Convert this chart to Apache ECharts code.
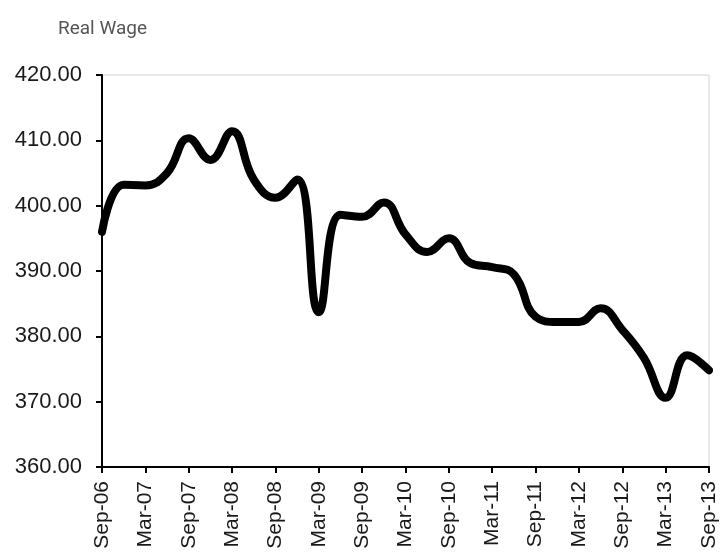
<!DOCTYPE html>
<html>
<head>
<meta charset="utf-8">
<script src="https://cdn.jsdelivr.net/npm/echarts@6/dist/echarts.min.js"></script>
<style>html,body{margin:0;padding:0;background:#fff;}#c{width:721px;height:555px;}</style>
</head>
<body>
<div id="c"></div>
<script>
var categories = ['Sep-06','Dec-06','Mar-07','Jun-07','Sep-07','Dec-07','Mar-08','Jun-08','Sep-08','Dec-08',
  'Mar-09','Jun-09','Sep-09','Dec-09','Mar-10','Jun-10','Sep-10','Dec-10','Mar-11','Jun-11',
  'Sep-11','Dec-11','Mar-12','Jun-12','Sep-12','Dec-12','Mar-13','Jun-13','Sep-13'];
var realWage = [396.0, 403.2, 403.1, 405.0, 410.3, 407.0, 411.4, 404.0, 401.2, 404.0,
  383.7, 398.6, 398.3, 400.5, 395.6, 392.9, 395.0, 391.2, 390.6, 389.5,
  383.0, 382.2, 382.2, 384.3, 381.0, 376.7, 370.6, 377.1, 374.8];
var titleText = 'Real Wage';

var chart = echarts.init(document.getElementById('c'));
chart.setOption({
  animation: false,
  title: {
    text: titleText, left: 53, top: 15,
    textStyle: {fontFamily: 'Roboto', fontSize: 19, fontWeight: 'normal', color: '#555'}
  },
  grid: {left: 102, right: 12, top: 75, bottom: 88, show: true, borderColor: '#d4d4d4', borderWidth: 1},
  xAxis: {
    type: 'category', data: categories, boundaryGap: false,
    axisLine: {lineStyle: {color: '#000', width: 2}},
    axisTick: {show: true, interval: 1, length: 6, lineStyle: {color: '#000', width: 2}},
    axisLabel: {interval: 1, rotate: 90, margin: 14, fontFamily: 'Liberation Sans', fontSize: 21, color: '#1a1a1a'},
    splitLine: {show: false}
  },
  yAxis: {
    type: 'value', min: 360, max: 420, interval: 10,
    axisLine: {show: true, lineStyle: {color: '#000', width: 2}},
    axisTick: {show: true, length: 6, lineStyle: {color: '#000', width: 2}},
    axisLabel: {margin: 20, fontFamily: 'Liberation Sans', fontSize: 22, color: '#1a1a1a',
      formatter: function (v) { return v.toFixed(2); }},
    splitLine: {show: false}
  },
  series: [{
    type: 'line', data: realWage, smooth: 0.45, symbol: 'none',
    lineStyle: {color: '#000', width: 8, cap: 'round', join: 'round'}
  }]
});
</script>
</body>
</html>
